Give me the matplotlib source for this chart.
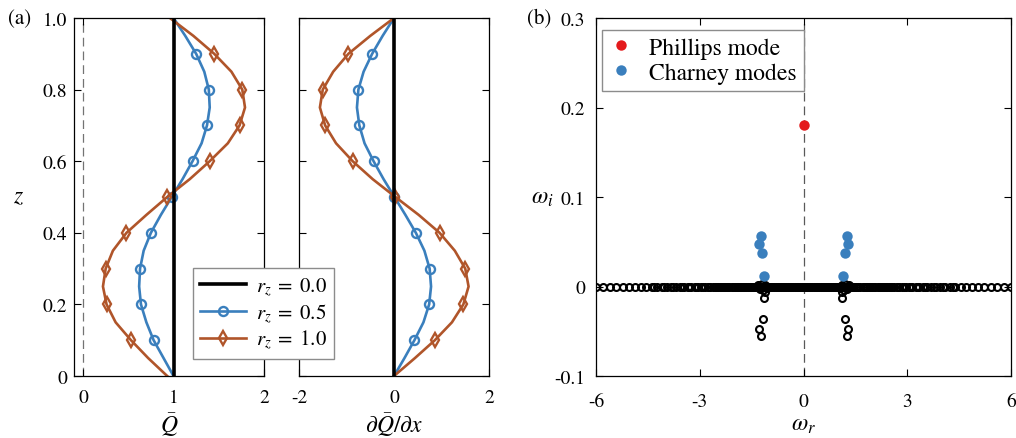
import matplotlib
matplotlib.use("Agg")
import matplotlib.pyplot as plt
from matplotlib.lines import Line2D

plt.rcParams['font.family'] = ['STIXGeneral', 'DejaVu Sans']
plt.rcParams['mathtext.fontset'] = 'stix'
plt.rcParams['axes.unicode_minus'] = False

# ---------------- data ----------------
z = [0.0, 0.05, 0.1, 0.15, 0.2, 0.25, 0.3, 0.35, 0.4, 0.45, 0.5,
     0.55, 0.6, 0.65, 0.7, 0.75, 0.8, 0.85, 0.9, 0.95, 1.0]

Q_r00 = [1.0] * 21
Q_r05 = [1.00, 0.89, 0.78, 0.70, 0.64, 0.62, 0.63, 0.67, 0.75, 0.86, 0.98,
         1.10, 1.21, 1.31, 1.37, 1.40, 1.39, 1.34, 1.25, 1.13, 1.00]
Q_r10 = [0.93, 0.72, 0.53, 0.36, 0.26, 0.22, 0.25, 0.33, 0.48, 0.70, 0.93,
         1.18, 1.40, 1.60, 1.73, 1.79, 1.76, 1.64, 1.45, 1.22, 0.96]

dQ_r00 = [0.0] * 21
dQ_r05 = [0.00, 0.22, 0.43, 0.62, 0.74, 0.78, 0.75, 0.64, 0.46, 0.24, 0.01,
          -0.22, -0.43, -0.62, -0.73, -0.78, -0.75, -0.64, -0.46, -0.24, 0.00]
dQ_r10 = [0.00, 0.44, 0.86, 1.22, 1.46, 1.57, 1.50, 1.28, 0.96, 0.52, 0.03,
          -0.45, -0.87, -1.22, -1.45, -1.56, -1.50, -1.28, -0.96, -0.50, 0.00]

legend_a = [r'$r_z\;=\;0.0$', r'$r_z\;=\;0.5$', r'$r_z\;=\;1.0$']

# eigenvalues (panel b)
phillips_wr = [0.0]
phillips_wi = [0.180]

charney_wr = [-1.24, -1.29, -1.19, -1.13, 1.245, 1.30, 1.19, 1.13]
charney_wi = [0.0563, 0.0474, 0.0369, 0.0116, 0.0563, 0.0474, 0.0369, 0.0116]

decay_wr = [-1.15, -1.18, -1.29, -1.24, -1.10, 1.12, 1.19, 1.30, 1.25, 1.10]
decay_wi = [-0.0123, -0.036, -0.047, -0.0556, -0.006, -0.0123, -0.036, -0.047, -0.0556, -0.006]

neutral_wr = [
    -6.0, -5.8, -5.6, -5.41, -5.22, -5.04, -4.87, -4.7, -4.54, -4.39, -4.24,
    -4.1, -3.96, -3.83, -3.7, -3.58, -3.46, -3.35, -3.24, -3.14, -3.04, -2.95,
    -2.86, -2.77, -2.69, -2.61, -2.53, -2.46, -2.39, -2.32, -2.26, -2.2, -2.14,
    -2.08, -2.03, -1.98, -1.93, -1.88, -1.84, -1.8, -1.76, -1.72,
    -4.32, -4.02, -3.76, -3.52, -3.3, -3.1, -2.91, -2.73, -2.57, -2.42, -2.29, -2.17,
    -1.66, -1.61, -1.56, -1.51, -1.46, -1.42, -1.38, -1.34, -1.30, -1.27, -1.24,
    -1.21, -1.18, -1.15, -1.12, -1.09, -1.05, -1.0, -0.95, -0.9, -0.85, -0.8,
    -0.75, -0.7, -0.65, -0.6, -0.55, -0.5, -0.45, -0.4, -0.35, -0.3, -0.25,
    -0.2, -0.15, -0.1, -0.05, 0.0,
    0.05, 0.1, 0.15, 0.2, 0.25, 0.3, 0.35, 0.4, 0.45, 0.5, 0.55, 0.6, 0.65,
    0.7, 0.75, 0.8, 0.85, 0.9, 0.95, 1.0, 1.05, 1.09, 1.12, 1.15, 1.18, 1.21,
    1.24, 1.27, 1.30, 1.34, 1.38, 1.42,
    1.47, 1.52, 1.58, 1.64,
    1.72, 1.76, 1.8, 1.84, 1.88, 1.93, 1.98, 2.03, 2.08, 2.14, 2.2, 2.26,
    2.32, 2.39, 2.46, 2.53, 2.61, 2.69, 2.77, 2.86, 2.95, 3.04, 3.14, 3.24,
    3.35, 3.46, 3.58, 3.7, 3.83, 3.96, 4.1, 4.24, 4.39, 4.54, 4.7, 4.87,
    5.04, 5.22, 5.41, 5.6, 5.8, 6.0,
    4.32, 4.02, 3.76, 3.52, 3.3, 3.1, 2.91, 2.73, 2.57, 2.42, 2.29, 2.17]
neutral_wi = [0.0] * len(neutral_wr)

near_wr = [-1.32, -1.25, -1.2, -1.16, -1.12, -1.06, 1.06, 1.12, 1.16, 1.2, 1.25, 1.32]
near_wi = [0.002, -0.003, 0.003, -0.004, 0.002, -0.002, -0.002, 0.002, -0.004, 0.003, -0.003, 0.002]

legend_b = ['Phillips mode', 'Charney modes']

# ---------------- styles ----------------
BLUE = '#3a7fbd'
BROWN = '#b0552a'
RED = '#e41a1c'
DASH = (0, (7, 4))

fig = plt.figure(figsize=(10.16, 4.39), dpi=100)
W, H = 1016, 439
def rect(l, r, t, b):
    return [l / W, 1 - b / H, (r - l) / W, (b - t) / H]

ax1 = fig.add_axes(rect(74, 264, 19, 377))
ax2 = fig.add_axes(rect(299, 489, 19, 377))
ax3 = fig.add_axes(rect(596, 1011, 19, 377))

mk = dict(markevery=slice(2, 19, 2), markerfacecolor='none', markeredgewidth=1.7)
LW = 1.9
circ = dict(marker='o', ms=6.5)
diam = dict(marker='d', ms=7.5)

# panel a, left
ax1.axvline(0, color='0.45', lw=0.9, ls=DASH, zorder=1)
ax1.plot(Q_r00, z, color='k', lw=2.6, zorder=3)
ax1.plot(Q_r05, z, color=BLUE, lw=LW, **circ, **mk, zorder=2)
ax1.plot(Q_r10, z, color=BROWN, lw=LW, **diam, **mk, zorder=2)
ax1.set_xlim(-0.1, 2)
ax1.set_ylim(0, 1)
ax1.set_xticks([0, 1, 2])
ax1.set_yticks([0, 0.2, 0.4, 0.6, 0.8, 1.0])
ax1.set_yticklabels(['0', '0.2', '0.4', '0.6', '0.8', '1.0'])
ax1.set_xlabel(r'$\bar{Q}$', fontsize=17)
ax1.xaxis.set_label_coords(0.5, -0.095)
ax1.set_ylabel('$z$', fontsize=17, rotation=0, ha='center', va='center')
ax1.yaxis.set_label_coords(-0.29, 0.5)

# panel a, right
ax2.plot(dQ_r00, z, color='k', lw=2.6, zorder=3)
ax2.plot(dQ_r05, z, color=BLUE, lw=LW, **circ, **mk, zorder=2)
ax2.plot(dQ_r10, z, color=BROWN, lw=LW, **diam, **mk, zorder=2)
ax2.set_xlim(-2, 2)
ax2.set_ylim(0, 1)
ax2.set_xticks([-2, 0, 2])
ax2.set_yticks([0, 0.2, 0.4, 0.6, 0.8, 1.0])
ax2.set_yticklabels([])
ax2.set_xlabel(r'$\partial\bar{Q}/\partial x$', fontsize=17)
ax2.xaxis.set_label_coords(0.5, -0.095)

# panel b
oc = dict(ls='none', marker='o', ms=5.0, mfc='none', mec='k', mew=1.5, zorder=2)
ax3.axvline(0, color='0.35', lw=0.9, ls=DASH, zorder=1)
ax3.plot(neutral_wr, neutral_wi, **oc)
ax3.plot(near_wr, near_wi, **oc)
ax3.plot(decay_wr, decay_wi, **oc)
ax3.plot(charney_wr, charney_wi, ls='none', marker='o', ms=7.5, color=BLUE,
         mec='none', zorder=3)
ax3.plot(phillips_wr, phillips_wi, ls='none', marker='o', ms=7.5, color=RED,
         mec='none', zorder=3)
ax3.set_xlim(-6, 6)
ax3.set_ylim(-0.1, 0.3)
ax3.set_xticks([-6, -3, 0, 3, 6])
ax3.set_yticks([-0.1, 0, 0.1, 0.2, 0.3])
ax3.set_yticklabels(['-0.1', '0', '0.1', '0.2', '0.3'])
ax3.set_xlabel(r'$\omega_r$', fontsize=17)
ax3.xaxis.set_label_coords(0.5, -0.105)
ax3.set_ylabel(r'$\omega_i$', fontsize=17, rotation=0, ha='center', va='center')
ax3.yaxis.set_label_coords(-0.13, 0.5)

for ax in (ax1, ax2, ax3):
    ax.tick_params(direction='in', top=True, right=True, labelsize=14,
                   length=5, width=0.8)
    ax.tick_params(axis='y', pad=5)
    for s in ax.spines.values():
        s.set_linewidth(0.9)
ax1.tick_params(axis='x', pad=9)
ax2.tick_params(axis='x', pad=9)
ax3.tick_params(axis='x', pad=12)
ax3.tick_params(axis='y', pad=8)

# legends
ha = [Line2D([], [], color='k', lw=2.6),
      Line2D([], [], color=BLUE, lw=LW, mfc='none', mew=1.7, **circ),
      Line2D([], [], color=BROWN, lw=LW, mfc='none', mew=1.7, **diam)]
lga = fig.legend(ha, legend_a, loc='upper left',
                 bbox_to_anchor=(193 / W, 1 - 269 / H), fontsize=15,
                 frameon=True, fancybox=False, edgecolor='0.55', framealpha=1,
                 handlelength=2.2, borderaxespad=0, borderpad=0.35,
                 labelspacing=0.15, handletextpad=0.45)
lga.get_frame().set_linewidth(1.0)

hb = [Line2D([], [], ls='none', marker='o', ms=7.5, color=RED, mec='none'),
      Line2D([], [], ls='none', marker='o', ms=7.5, color=BLUE, mec='none')]
lgb = fig.legend(hb, legend_b, loc='upper left',
                 bbox_to_anchor=(602 / W, 1 - 31 / H), fontsize=17,
                 frameon=True, fancybox=False, edgecolor='0.55', framealpha=1,
                 handlelength=1.0, borderaxespad=0, borderpad=0.3,
                 labelspacing=0.15, handletextpad=0.7)
lgb.get_frame().set_linewidth(1.0)

fig.text(8 / W, 1 - 19 / H, '(a)', fontsize=15, ha='left', va='center')
fig.text(527 / W, 1 - 19 / H, '(b)', fontsize=15, ha='left', va='center')

fig.savefig('out.png', dpi=100)
